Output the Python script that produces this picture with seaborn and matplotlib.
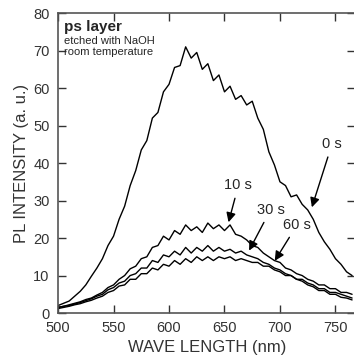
import numpy as np
import pandas as pd
import matplotlib
matplotlib.use("Agg")
import matplotlib.pyplot as plt
import seaborn as sns

# wavelengths every 5 nm
wave = list(range(500, 770, 5))

pl_0s = [2.0, 2.6, 3.2, 4.5, 5.8, 7.5, 9.8, 12.0, 14.5, 18.0, 20.5, 25.0, 28.5, 34.0,
         38.0, 43.5, 46.0, 52.0, 53.5, 59.0, 61.0, 65.5, 66.0, 71.0, 68.0, 69.5, 65.0,
         66.5, 62.0, 63.5, 59.0, 60.5, 57.0, 58.0, 55.5, 56.5, 52.0, 49.0, 43.0, 39.5,
         35.0, 34.0, 31.0, 31.5, 29.0, 27.5, 25.0, 21.5, 19.0, 17.0, 14.5, 13.0, 11.0, 10.0]
pl_10s = [1.5, 1.8, 2.2, 2.6, 3.0, 3.6, 4.0, 4.8, 5.5, 6.8, 7.5, 9.0, 10.0, 11.8, 12.5,
          14.5, 15.0, 17.5, 18.0, 20.5, 19.5, 22.0, 21.0, 23.5, 22.0, 23.0, 21.5, 24.0,
          22.5, 23.5, 22.0, 23.5, 21.0, 20.5, 19.5, 18.0, 17.5, 16.0, 15.0, 14.0, 13.5,
          12.0, 11.5, 10.5, 10.0, 9.0, 8.5, 7.5, 7.5, 6.5, 6.5, 5.5, 5.5, 5.0]
pl_30s = [1.5, 1.8, 2.0, 2.4, 2.8, 3.3, 3.8, 4.5, 5.0, 6.2, 6.8, 8.0, 8.5, 10.0, 10.5,
          12.0, 12.0, 14.0, 13.5, 15.5, 15.0, 16.5, 15.5, 17.5, 16.0, 17.5, 16.5, 18.0,
          16.5, 17.5, 16.5, 17.0, 16.0, 16.5, 15.5, 15.0, 14.5, 13.5, 13.0, 12.0, 11.5,
          10.5, 10.0, 9.0, 9.0, 8.0, 7.5, 6.5, 6.5, 5.5, 5.5, 5.0, 4.5, 4.0]
pl_60s = [1.2, 1.5, 1.8, 2.2, 2.5, 3.0, 3.4, 4.0, 4.5, 5.5, 6.0, 7.2, 7.5, 9.0, 9.0,
          10.5, 10.5, 12.0, 11.5, 13.0, 12.5, 14.0, 13.0, 14.5, 13.5, 15.0, 14.0, 15.0,
          14.0, 15.0, 14.5, 15.0, 14.0, 14.5, 14.0, 13.5, 13.5, 12.5, 12.5, 11.5, 11.0,
          10.0, 10.0, 9.0, 8.5, 7.5, 7.0, 6.0, 6.0, 5.0, 5.0, 4.2, 4.0, 3.5]

labels = ["0 s", "10 s", "30 s", "60 s"]
df = pd.DataFrame({"wave": wave * 4,
                   "pl": pl_0s + pl_10s + pl_30s + pl_60s,
                   "time": [l for l in labels for _ in wave]})

sns.set_style("ticks")
plt.rcParams["font.family"] = ["Liberation Sans", "DejaVu Sans"]

fig = plt.figure(figsize=(3.54, 3.64), dpi=100)
ax = fig.add_axes([0.164, 0.14, 0.84, 0.824])
sns.lineplot(data=df, x="wave", y="pl", units="time", estimator=None,
             color="black", lw=1.0, ax=ax, legend=False)

ax.set_xlim(500, 768)
ax.set_ylim(0, 80)
ax.set_xticks(range(500, 751, 50))
ax.set_yticks(range(0, 81, 10))
ax.tick_params(direction="in", length=6, width=1, top=True, right=True,
               labelsize=10.5, colors="#333333", pad=6)
for s in ax.spines.values():
    s.set_color("#555555")
    s.set_linewidth(1.2)
ax.set_xlabel("WAVE LENGTH (nm)", fontsize=12, color="#333333", labelpad=3)
ax.set_ylabel("PL INTENSITY (a. u.)", fontsize=12, color="#333333", labelpad=3)

ax.text(505, 75.3, "ps layer", fontsize=11, fontweight="bold")
ax.text(505, 71.8, "etched with NaOH", fontsize=8)
ax.text(505, 68.8, "room temperature", fontsize=8)

arrow = dict(arrowstyle="-|>", color="black", lw=1, mutation_scale=14)
ax.annotate("0 s", xy=(728, 27.5), xytext=(738, 44), fontsize=10.5, arrowprops=arrow)
ax.annotate("10 s", xy=(653, 23.5), xytext=(650, 33), fontsize=10.5, arrowprops=arrow)
ax.annotate("30 s", xy=(671, 16), xytext=(679, 26.5), fontsize=10.5, arrowprops=arrow)
ax.annotate("60 s", xy=(694, 13.3), xytext=(703, 22.5), fontsize=10.5, arrowprops=arrow)

fig.savefig("out.png", dpi=100)
